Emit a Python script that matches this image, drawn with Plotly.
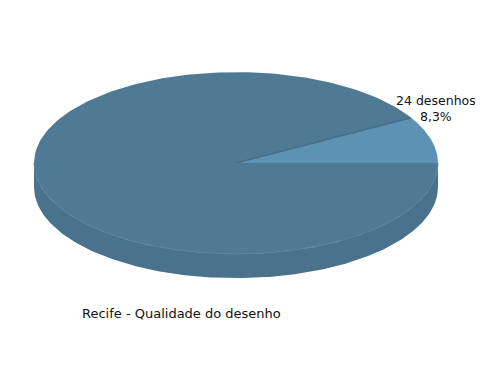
import numpy as np
import plotly.graph_objects as go

# Data
categories = ["Outros", "24 desenhos"]
values = [265, 24]
top_colors = ["#507A94", "#5C93B4"]
side_color = "#4A728C"
title_text = "Recife - Qualidade do desenho"

total = sum(values)
pcts = [v / total * 100 for v in values]

# Geometry (unit circle squashed for a tilted view)
RY = 0.45
DEPTH = 0.12
N = 240

def pt(theta_deg):
    t = np.radians(theta_deg)
    return np.cos(t), RY * np.sin(t)

fig = go.Figure()

# Side wall (front half, 180..360 deg)
th = np.linspace(180, 360, N)
xs, ys = pt(th)
side_x = np.concatenate([xs, xs[::-1]])
side_y = np.concatenate([ys, ys[::-1] - DEPTH])
fig.add_trace(go.Scatter(x=side_x, y=side_y, fill="toself", fillcolor=side_color,
                         line=dict(width=0), mode="lines", hoverinfo="skip"))

# Slices: small slice starts at 0 deg going counter-clockwise, big slice the rest
small_ang = pcts[1] / 100 * 360
slices = [
    (small_ang, 360.0, top_colors[0]),
    (0.0, small_ang, top_colors[1]),
]
for a0, a1, col in slices:
    th = np.linspace(a0, a1, N)
    xs, ys = pt(th)
    fx = np.concatenate([[0], xs, [0]])
    fy = np.concatenate([[0], ys, [0]])
    fig.add_trace(go.Scatter(x=fx, y=fy, fill="toself", fillcolor=col,
                             line=dict(width=0), mode="lines", hoverinfo="skip"))

# Boundary line between slices
bx, by = pt(small_ang)
fig.add_trace(go.Scatter(x=[0, bx], y=[0, by], mode="lines",
                         line=dict(color="#466E88", width=1.5), hoverinfo="skip"))
# Subtle rim highlight on the front edge
th = np.linspace(180, 360, N)
xs, ys = pt(th)
fig.add_trace(go.Scatter(x=xs, y=ys, mode="lines",
                         line=dict(color="#5783A0", width=1), hoverinfo="skip"))

label = f"{values[1]} desenhos<br>{pcts[1]:.1f}%".replace(".", ",")

OFF = 8  # page body margin
W, H = 483 - OFF, 372 - OFF
cx_px, cy_px, rx_px = 236 - OFF, 163 - OFF, 202

fig.update_layout(
    width=W, height=H,
    margin=dict(l=0, r=0, t=0, b=0),
    paper_bgcolor="white", plot_bgcolor="white",
    showlegend=False,
    xaxis=dict(range=[-cx_px / rx_px, (W - cx_px) / rx_px], visible=False, fixedrange=True),
    yaxis=dict(range=[-(H - cy_px) / rx_px, cy_px / rx_px], visible=False, fixedrange=True),
    annotations=[
        dict(text=label, xref="paper", yref="paper", x=(436 - OFF) / W, y=1 - (108.5 - OFF) / H,
             xanchor="center", yanchor="middle", showarrow=False, align="center",
             font=dict(family="DejaVu Sans", size=12.5, color="#111111")),
        dict(text=title_text, xref="paper", yref="paper", x=(80 - OFF) / W, y=1 - (313 - OFF) / H,
             xanchor="left", yanchor="middle", showarrow=False,
             font=dict(family="DejaVu Sans", size=13, color="#111111")),
    ],
)

fig.write_html("out.html")
